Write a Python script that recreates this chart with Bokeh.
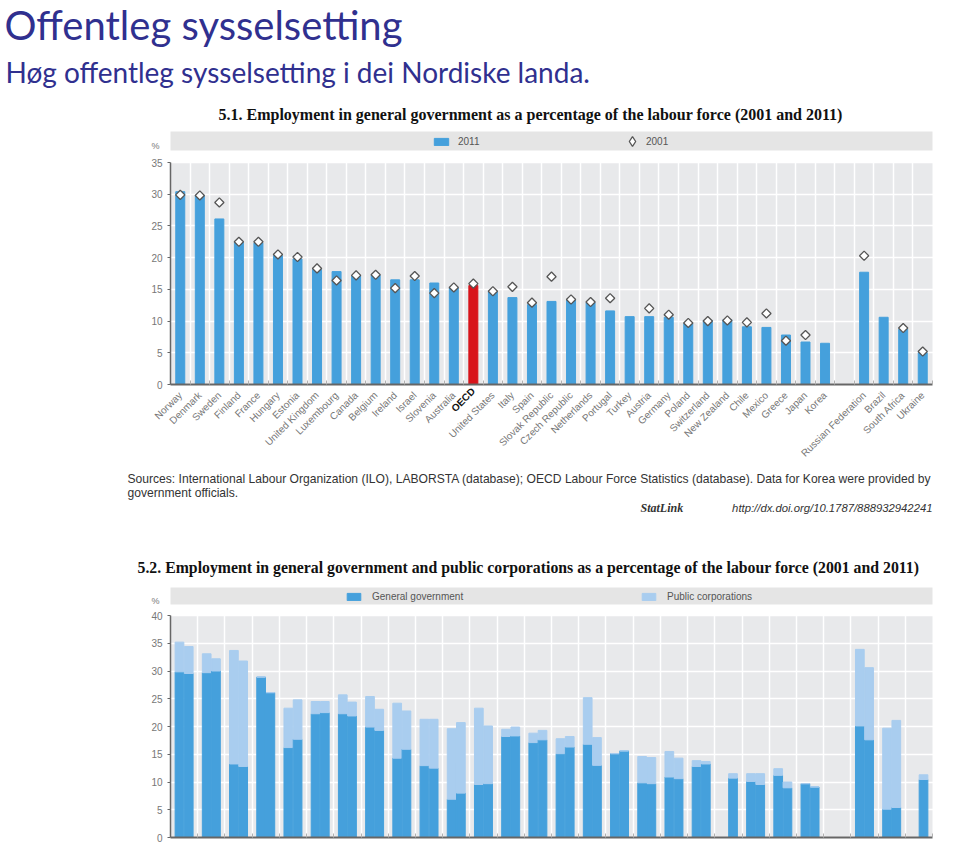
import math
from bokeh.plotting import figure
from bokeh.layouts import column
from bokeh.models import (Label, BoxAnnotation, Legend, LegendItem, FixedTicker,
                          ColumnDataSource, Range1d)
from bokeh.embed import file_html
from bokeh.resources import INLINE

NaN = float("nan")

# ---------------- texts ----------------
page_title = "Offentleg sysselsetting"
page_subtitle = "Høg offentleg sysselsetting i dei Nordiske landa."
title_51 = "5.1.  Employment in general government as a percentage of the labour force (2001 and 2011)"
title_52 = "5.2.  Employment in general government and public corporations as a percentage of the labour force (2001 and 2011)"
sources_1 = ("Sources:  International Labour Organization (ILO), LABORSTA (database); OECD Labour Force "
             "Statistics (database). Data for Korea were provided by")
sources_2 = "government officials."
statlink_word = "StatLink"
statlink_url = "http://dx.doi.org/10.1787/888932942241"
legend_51 = ["2011", "2001"]
legend_52 = ["General government", "Public corporations"]

# ---------------- chart 5.1 data ----------------
countries_51 = ["Norway", "Denmark", "Sweden", "Finland", "France", "Hungary", "Estonia",
                "United Kingdom", "Luxembourg", "Canada", "Belgium", "Ireland", "Israel",
                "Slovenia", "Australia", "OECD", "United States", "Italy", "Spain",
                "Slovak Republic", "Czech Republic", "Netherlands", "Portugal", "Turkey",
                "Austria", "Germany", "Poland", "Switzerland", "New Zealand", "Chile",
                "Mexico", "Greece", "Japan", "Korea", "", "Russian Federation", "Brazil",
                "South Africa", "Ukraine"]
emp_2011 = [30.4, 29.8, 26.1, 22.4, 22.3, 20.3, 19.8, 18.1, 17.8, 17.1, 17.2, 16.5, 16.5,
            16.0, 15.2, 15.6, 14.6, 13.7, 12.6, 13.1, 13.3, 12.9, 11.6, 10.7,
            10.7, 10.6, 9.6, 10.1, 10.2, 9.1,
            9.0, 7.8, 6.7, 6.5, NaN, 17.7, 10.6,
            8.7, 5.0]
emp_2001 = [29.9, 29.8, 28.7, 22.5, 22.5, 20.5, 20.1, 18.3, 16.4, 17.2, 17.3, 15.2, 17.1,
            14.4, 15.3, 15.9, 14.7, 15.4, 12.9, 17.0, 13.4, 13.0, 13.6, NaN,
            12.0, 11.0, 9.7, 10.0, 10.1, 9.8,
            11.2, 6.9, 7.8, NaN, NaN, 20.3, NaN,
            8.9, 5.2]
highlight_51 = "OECD"
yticks_51 = [0, 5, 10, 15, 20, 25, 30, 35]

# ---------------- chart 5.2 data (2001 bar, 2011 bar per group) ----------------
n_groups_52 = 28
gg_2001 = [29.85, 29.7, 13.25, 28.9, 16.2, 22.3, 22.3, 19.9, 14.3, 12.95, 6.9, 9.55, 18.2, 17.1,
           15.1, 16.8, 15.1, 9.85, 10.9, 12.8, NaN, 10.1, 11.2, 9.7, NaN, 20.1, 5.1, NaN]
tot_2001 = [35.2, 33.1, 33.7, 28.9, 23.3, 24.5, 25.7, 25.4, 24.2, 21.3, 19.6, 23.3, 19.5, 18.8,
            17.8, 25.2, 15.1, 14.6, 15.5, 13.85, NaN, 11.5, 12.4, 9.7, NaN, 33.9, 19.7, NaN]
gg_2011 = [29.55, 30.0, 12.8, 26.1, 17.7, 22.5, 21.9, 19.3, 15.9, 12.5, 8.0, 9.7, 18.3, 17.6,
           16.3, 13.0, 15.6, 9.7, 10.6, 13.25, 10.7, 9.55, 8.95, 9.1, NaN, 17.6, 5.4, 10.45]
tot_2011 = [34.4, 32.2, 31.8, 26.1, 24.8, 24.5, 24.4, 23.1, 22.8, 21.3, 20.7, 20.1, 19.9, 19.3,
            18.2, 18.0, 15.6, 14.4, 14.3, 13.7, 11.5, 11.5, 10.0, 9.1, NaN, 30.6, 21.1, 11.3]
yticks_52 = [0, 5, 10, 15, 20, 25, 30, 35, 40]

# ---------------- styles / layout (page pixels) ----------------
BLUE = "#45a0dc"
RED = "#d8141b"
LIGHT = "#a9cdef"
PLOT_BG = "#e8e9eb"
BAND = "#e5e5e5"
TITLE_BLUE = "#30308f"
TICK_GRAY = "#777777"
AXIS_GRAY = "#666666"
TEXT_GRAY = "#333333"
SANS = "Liberation Sans"
SERIF = "Liberation Serif"

W = 950
FRAME_L, FRAME_R = 170, 932        # chart area, page x
A_TOP, A_H = 0, 520                # figure A: page 0..520
F1_TOP, F1_BOT = 162, 384
B_TOP, B_H = 520, 323              # figure B: page 520..843
F2_TOP, F2_BOT = 615, 837


def txt(p, top, h, px, py, text, **kw):
    opts = dict(text_font=SANS, text_font_size="10px", text_color=TEXT_GRAY,
                text_align="left", text_baseline="middle")
    opts.update(kw)
    p.add_layout(Label(x=px, y=top + h - py, x_units="screen", y_units="screen", text=text, **opts))


def band(p, top, h, y0, y1):
    p.add_layout(BoxAnnotation(left=FRAME_L, right=FRAME_R, top=top + h - y0, bottom=top + h - y1,
                               left_units="screen", right_units="screen", top_units="screen",
                               bottom_units="screen", fill_color=BAND, fill_alpha=1,
                               line_color=None))


leg_kw = dict(orientation="horizontal", padding=0, margin=0, border_line_color=None,
              background_fill_alpha=0, label_text_font=SANS, label_text_font_size="10px",
              label_text_color="#555555")


def chart_fig(n, ymax, yticks, page_top, h, f_top, f_bot):
    xu = (FRAME_R - FRAME_L) / n
    yu = (f_bot - f_top) / ymax
    x0 = -0.5 - FRAME_L / xu
    x1 = n - 0.5 + (W - FRAME_R) / xu
    y0 = -(page_top + h - f_bot) / yu
    y1 = ymax + (f_top - page_top) / yu
    p = figure(width=W, height=h, output_backend="svg", toolbar_location=None,
               x_range=Range1d(x0, x1), y_range=Range1d(y0, y1),
               min_border_left=0, min_border_right=0, min_border_top=0, min_border_bottom=0)
    p.background_fill_color = "white"
    p.border_fill_color = "white"
    p.outline_line_color = None
    area = BoxAnnotation(left=-0.5, right=n - 0.5, bottom=0, top=ymax, fill_color=PLOT_BG,
                         fill_alpha=1, line_color=None, level="underlay")
    p.center = [area] + list(p.center)
    p.yaxis.fixed_location = -0.5
    p.yaxis.bounds = (0, ymax)
    p.yaxis.ticker = FixedTicker(ticks=yticks)
    p.yaxis.major_label_text_font = SANS
    p.yaxis.major_label_text_font_size = "10px"
    p.yaxis.major_label_text_color = TICK_GRAY
    p.yaxis.axis_line_color = AXIS_GRAY
    p.yaxis.axis_line_width = 1.5
    p.yaxis.major_tick_line_color = AXIS_GRAY
    p.yaxis.major_tick_out = 3
    p.yaxis.major_tick_in = 0
    p.yaxis.minor_tick_line_color = None
    p.yaxis.major_label_standoff = 5
    p.ygrid.ticker = FixedTicker(ticks=yticks)
    p.ygrid.grid_line_color = "white"
    p.ygrid.grid_line_width = 1.5
    p.xgrid.ticker = FixedTicker(ticks=[i + 0.5 for i in range(n - 1)])
    p.xgrid.grid_line_color = "white"
    p.xgrid.grid_line_width = 1.5
    p.xaxis.fixed_location = 0
    p.xaxis.bounds = (-0.5, n - 0.5)
    p.xaxis.axis_line_color = AXIS_GRAY
    p.xaxis.axis_line_width = 2
    p.xaxis.major_tick_line_color = None
    p.xaxis.minor_tick_line_color = "#b0b0b0"
    p.xaxis.minor_tick_in = 4
    p.xaxis.minor_tick_out = 0
    return p


# ================= figure A: titles + chart 5.1 + sources =================
n51 = len(countries_51)
x51 = list(range(n51))
colors51 = [RED if c == highlight_51 else BLUE for c in countries_51]
src51 = ColumnDataSource(dict(x=x51, top=emp_2011, y01=emp_2001, color=colors51))

pa = chart_fig(n51, 35, yticks_51, A_TOP, A_H, F1_TOP, F1_BOT)
pa.xaxis.ticker = FixedTicker(ticks=[i for i, c in enumerate(countries_51) if c],
                              minor_ticks=[i + 0.5 for i in range(-1, n51)])
pa.xaxis.major_label_overrides = {i: ("" if c == highlight_51 else c)
                                  for i, c in enumerate(countries_51) if c}
pa.xaxis.major_label_orientation = math.pi / 4
pa.xaxis.major_label_text_font = SANS
pa.xaxis.major_label_text_font_size = "10px"
pa.xaxis.major_label_text_color = TICK_GRAY
pa.xaxis.major_label_standoff = 3

bars51 = pa.vbar(x="x", top="top", bottom=0, width=0.46, color="color", source=src51)
pa.scatter(x="x", y="y01", marker="square", angle=math.pi / 4, size=6.5,
           fill_color="white", line_color="#555555", line_width=1.3, source=src51)
# legend proxy (no visible point) so the legend shows an upright diamond
dia_proxy = pa.scatter(x=[NaN], y=[NaN], marker="diamond", size=9,
                       fill_color="white", line_color="#555555", line_width=1.3)

pa.add_layout(Label(x=countries_51.index(highlight_51), y=A_TOP + A_H - 389,
                    x_units="data", y_units="screen", text=highlight_51, angle=math.pi / 4,
                    text_align="right", text_baseline="middle", text_font=SANS,
                    text_font_size="10px", text_font_style="bold", text_color="#111111"))

txt(pa, A_TOP, A_H, 4, 24, page_title, text_font="Lato", text_font_size="40px",
    text_color=TITLE_BLUE)
txt(pa, A_TOP, A_H, 5, 71, page_subtitle, text_font="Lato", text_font_size="28px",
    text_color=TITLE_BLUE)
txt(pa, A_TOP, A_H, 218, 114, title_51, text_font=SERIF, text_font_size="16px",
    text_font_style="bold", text_color="#111111")
txt(pa, A_TOP, A_H, 155, 145, "%", text_align="center", text_font_size="9px", text_color=TICK_GRAY)
band(pa, A_TOP, A_H, 131, 150)
pa.add_layout(Legend(items=[LegendItem(label=legend_51[0], renderers=[bars51], index=0)],
                     location=(432, A_TOP + A_H - 147), glyph_width=18, glyph_height=9,
                     label_height=9, label_standoff=8, **leg_kw))
pa.add_layout(Legend(items=[LegendItem(label=legend_51[1], renderers=[dia_proxy], index=0)],
                     location=(620, A_TOP + A_H - 153), glyph_width=24, glyph_height=24,
                     label_height=24, label_standoff=2, **leg_kw))

txt(pa, A_TOP, A_H, 127, 478, sources_1, text_font_size="12.1px")
txt(pa, A_TOP, A_H, 127, 492, sources_2, text_font_size="12.1px")
txt(pa, A_TOP, A_H, 640, 507, statlink_word, text_font=SERIF, text_font_size="12px",
    text_font_style="bold italic")
txt(pa, A_TOP, A_H, 932, 507, statlink_url, text_align="right", text_font_size="11.3px",
    text_font_style="italic")

# ================= figure B: chart 5.2 =================
gx = list(range(n_groups_52))
off = 0.17
src52a = ColumnDataSource(dict(x=[g - off for g in gx], gg=gg_2001, tot=tot_2001))
src52b = ColumnDataSource(dict(x=[g + off for g in gx], gg=gg_2011, tot=tot_2011))

pb = chart_fig(n_groups_52, 40, yticks_52, B_TOP, B_H, F2_TOP, F2_BOT)
pb.xaxis.ticker = FixedTicker(ticks=[], minor_ticks=[g + 0.5 for g in range(-1, n_groups_52)])

bw = 0.32
gg_r = []
pc_r = []
for s in (src52a, src52b):
    gg_r.append(pb.vbar(x="x", bottom=0, top="gg", width=bw, color=BLUE, source=s))
    pc_r.append(pb.vbar(x="x", bottom="gg", top="tot", width=bw, color=LIGHT, source=s))

txt(pb, B_TOP, B_H, 137, 567, title_52, text_font=SERIF, text_font_size="15.8px",
    text_font_style="bold", text_color="#111111")
txt(pb, B_TOP, B_H, 155, 600, "%", text_align="center", text_font_size="9px",
    text_color=TICK_GRAY)
band(pb, B_TOP, B_H, 587, 604)
pb.add_layout(Legend(items=[LegendItem(label=legend_52[0], renderers=[gg_r[0]], index=0)],
                     location=(345, B_TOP + B_H - 601.5), glyph_width=17, glyph_height=9,
                     label_height=9, label_standoff=10, **leg_kw))
pb.add_layout(Legend(items=[LegendItem(label=legend_52[1], renderers=[pc_r[0]], index=0)],
                     location=(640, B_TOP + B_H - 601.5), glyph_width=17, glyph_height=9,
                     label_height=9, label_standoff=10, **leg_kw))

layout = column(pa, pb, spacing=0)
open("out.html", "w").write(file_html(layout, INLINE))
